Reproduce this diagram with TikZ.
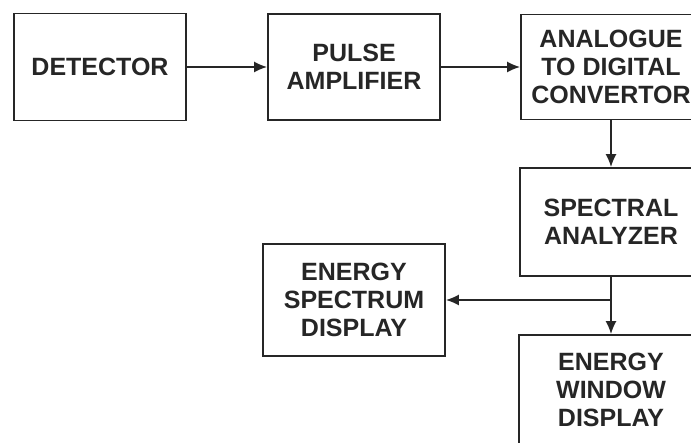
\documentclass[tikz,border=0pt]{standalone}
\usepackage{fontspec}
\setmainfont{Liberation Sans}
\usepackage{tikz}
\usetikzlibrary{arrows.meta, positioning}

\begin{document}
\begin{tikzpicture}[
			x=1pt, y=1pt,
			font=\fontsize{25}{28}\selectfont\bfseries,
			box/.style={
				draw=black!85,
				line width=1.8pt,
				align=center,
				inner sep=0pt,
				text=black!85
			},
			arr/.style={-{Latex[length=13pt, width=11pt]}, line width=1.6pt, draw=black!85}
			]
			
			\clip (0,0) rectangle (691,443);
			
			\node[box, minimum width=172, minimum height=107] (det) at (100,376) {DETECTOR};
			\node[box, minimum width=172, minimum height=106] (amp) at (354,376) {PULSE\\AMPLIFIER};
			\node[box, minimum width=180, minimum height=105] (adc) at (611,376) {ANALOGUE\\TO DIGITAL\\CONVERTOR};
			\node[box, minimum width=182, minimum height=108] (spec) at (611,221) {SPECTRAL\\ANALYZER};
			\node[box, minimum width=182, minimum height=112] (esd) at (354,143) {ENERGY\\SPECTRUM\\DISPLAY};
			\node[box, minimum width=184, minimum height=110] (ewd) at (611,53) {ENERGY\\WINDOW\\DISPLAY};
			
			\coordinate (split) at (spec.south |- esd.east);
			
			\draw[arr] (det) -- (amp);
			\draw[arr] (amp) -- (adc);
			\draw[arr] (adc) -- (spec);
			\draw[arr] (spec) -- (ewd);
			\draw[arr] (split) -- (esd);
			
		\end{tikzpicture}
\end{document}
